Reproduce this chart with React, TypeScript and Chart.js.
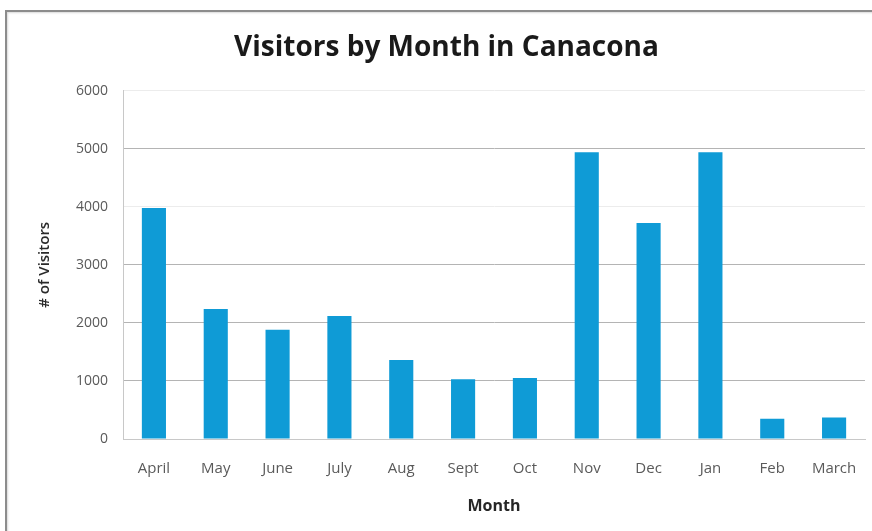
import React, { useEffect, useRef } from "react";
import { Chart, registerables } from "chart.js";

Chart.register(...registerables);

const months = ["April", "May", "June", "July", "Aug", "Sept", "Oct", "Nov", "Dec", "Jan", "Feb", "March"];
const visitors = [3980, 2240, 1880, 2120, 1360, 1030, 1050, 4940, 3720, 4940, 350, 370];
const yTicks = [0, 1000, 2000, 3000, 4000, 5000, 6000];

const FONT = "'Open Sans', 'Noto Sans', sans-serif";

export default function App() {
  const ref = useRef<HTMLCanvasElement | null>(null);

  useEffect(() => {
    const canvas = ref.current;
    if (!canvas) return;
    const chart = new Chart(canvas, {
      type: "bar",
      data: {
        labels: months,
        datasets: [
          {
            label: "# of Visitors",
            data: visitors,
            backgroundColor: "#0f9bd6",
            borderWidth: 0,
            barPercentage: 0.39,
            categoryPercentage: 1,
          },
        ],
      },
      options: {
        animation: false,
        responsive: false,
        maintainAspectRatio: false,
        layout: { padding: { top: 0, left: 28, right: 7, bottom: 15 } },
        plugins: {
          legend: { display: false },
          tooltip: { enabled: false },
          title: {
            display: true,
            text: "Visitors by Month in Canacona",
            color: "#1a1a1a",
            font: { family: FONT, size: 28, weight: "bold" },
            padding: { top: 31, bottom: 26 },
          },
        },
        scales: {
          x: {
            afterFit: (scale: any) => {
              scale.height = 77;
            },
            grid: { display: false, drawTicks: true, tickLength: 21 },
            border: { display: true, color: "#c8c8c8" },
            ticks: {
              color: "#5a5a5a",
              font: { family: FONT, size: 15 },
              padding: 0,
              maxRotation: 0,
              autoSkip: false,
            },
            title: {
              display: true,
              text: "Month",
              color: "#262626",
              font: { family: FONT, size: 16, weight: "bold" },
              padding: { top: 0, bottom: 0 },
            },
          },
          y: {
            min: 0,
            max: 6000,
            afterBuildTicks: (scale: any) => {
              scale.ticks = yTicks.map((v) => ({ value: v }));
            },
            afterFit: (scale: any) => {
              scale.width = 95;
            },
            grid: {
              drawTicks: false,
              color: (ctx: any) => {
                const v = ctx.tick ? ctx.tick.value : 0;
                if (v === 4000 || v === 6000) return "#ececec";
                return "#b4b4b4";
              },
              lineWidth: 1,
            },
            border: { display: true, color: "#c8c8c8" },
            ticks: {
              color: "#5a5a5a",
              font: { family: FONT, size: 14 },
              padding: 15,
              callback: (value: any) => String(value),
            },
            title: {
              display: true,
              text: "# of Visitors",
              color: "#2a2a2a",
              font: { family: FONT, size: 15, weight: "600" },
              padding: { top: 8, bottom: 0 },
            },
          },
        },
      },
    });
    return () => chart.destroy();
  }, []);

  return (
    <div style={{ position: "fixed", left: 0, top: 0, width: 872, height: 531, background: "#fff", overflow: "hidden" }}>
      <div
        style={{
          position: "absolute",
          left: 5,
          top: 10,
          width: 900,
          height: 600,
          borderTop: "2px solid #8c8c8c",
          borderLeft: "2px solid #8c8c8c",
          boxShadow: "inset 1px 1px 2px rgba(0,0,0,0.15)",
        }}
      />
      <canvas ref={ref} width={872} height={531} style={{ position: "absolute", left: 0, top: 0, width: 872, height: 531 }} />
    </div>
  );
}
